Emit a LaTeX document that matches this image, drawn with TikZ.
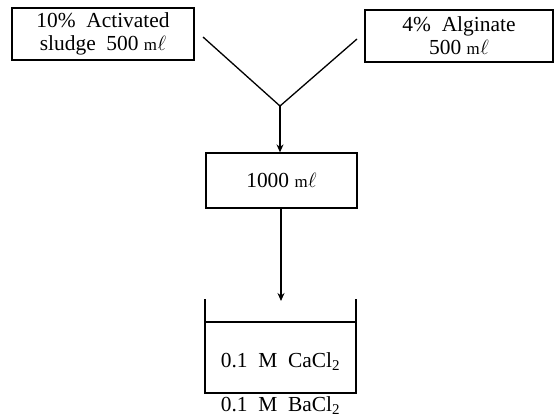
\documentclass[tikz,border=0pt]{standalone}
\usepackage{fontspec}
\setmainfont{Liberation Serif}
\usetikzlibrary{arrows.meta}
\newcommand{\mlu}{{\fontsize{17}{18}\selectfont m}\kern0.5pt$\ell$}
\begin{document}
\begin{tikzpicture}[x=1bp,y=-1bp,
  every node/.style={font=\fontsize{21.5}{23}\selectfont},
  boxstyle/.style={draw,line width=1.3bp,inner sep=0pt,align=center},
  line/.style={line width=1.3bp},
  arr/.style={line width=1.2bp,-{Stealth[length=8bp,width=7bp]}}]
\useasboundingbox (0,0) rectangle (556,419);
\node[boxstyle,minimum width=182bp,minimum height=52bp] (a) at (103,34) {10\%\ \ Activated\\sludge\ \ 500 \mlu};
\node[boxstyle,minimum width=188bp,minimum height=52bp] (b) at (459,36) {4\%\ \ Alginate\\500 \mlu};
\node[boxstyle,minimum width=151bp,minimum height=55bp] (c) at (281.5,180.5) {1000 \mlu};
\coordinate (v) at (280,106);
\coordinate (al) at (203,37);
\coordinate (bl) at (357,39);
\draw[line] (al) -- (v) -- (bl);
\draw[arr] (v) -- (c.north -| v);
% beaker
\coordinate (btl) at (205,299);
\coordinate (btr) at (356,299);
\coordinate (bbl) at (205,393);
\coordinate (bbr) at (356,393);
\draw[line] (btl) -- (bbl) -- (bbr) -- (btr);
\draw[line] (205,322) -- (356,322);
\coordinate (bt) at (281,301);
\draw[arr] (c.south -| bt) -- (bt);
\node (ca) at (280.5,362) {0.1\ \ M\ \ CaCl\textsubscript{2}};
\node (ba) at (280.5,406) {0.1\ \ M\ \ BaCl\textsubscript{2}};
\end{tikzpicture}
\end{document}
